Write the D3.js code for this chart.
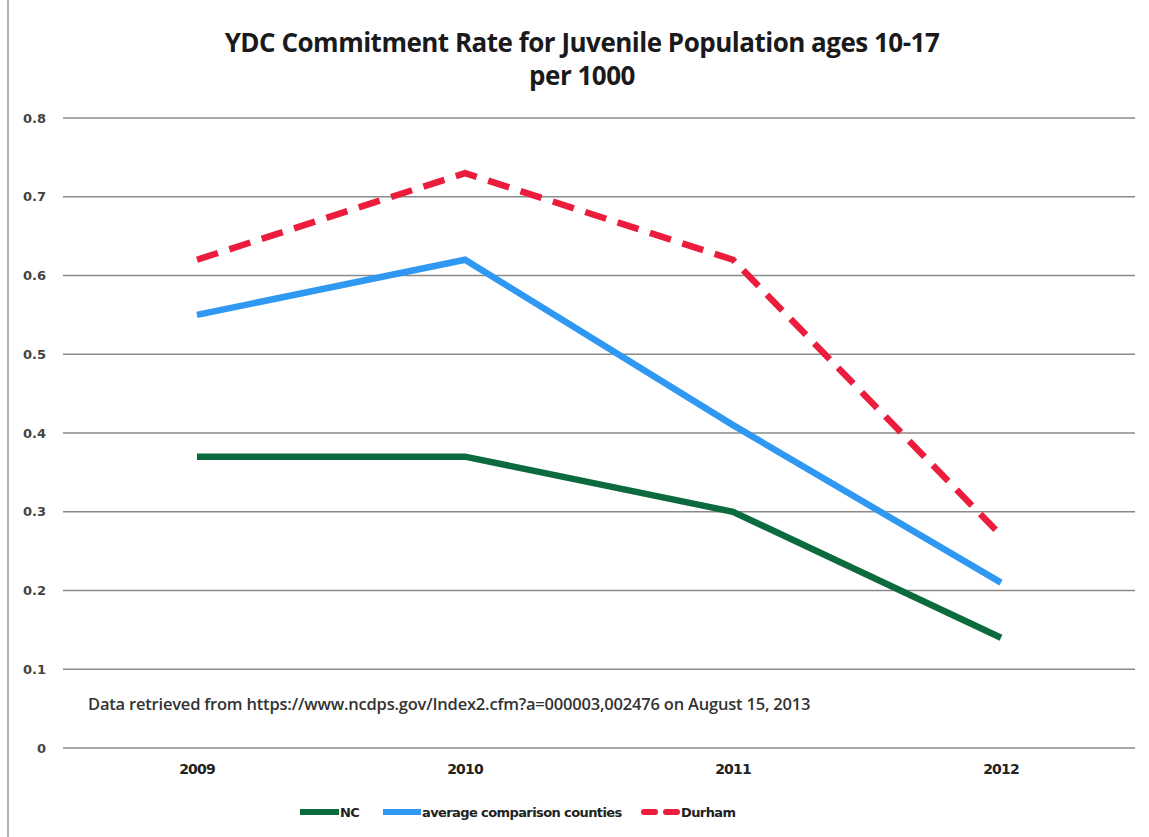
<!DOCTYPE html>
<html><head><meta charset="utf-8">
<script src="https://cdn.jsdelivr.net/npm/d3@7"></script>
<style>body{margin:0;background:#fff}svg{display:block}</style>
</head><body>
<svg id="chart" width="1149" height="837"></svg>
<script>
const years = ["2009","2010","2011","2012"];
const ncValues = [0.37, 0.37, 0.30, 0.14];
const avgValues = [0.55, 0.62, 0.41, 0.21];
const durhamValues = [0.62, 0.73, 0.62, 0.27];
const yTicks = [0, 0.1, 0.2, 0.3, 0.4, 0.5, 0.6, 0.7, 0.8];
const titleLines = ["YDC Commitment Rate for Juvenile Population ages 10-17", "per 1000"];
const note = "Data retrieved from  https://www.ncdps.gov/Index2.cfm?a=000003,002476 on August 15, 2013";
const seriesNames = ["NC", "average comparison counties", "Durham"];

(function(){
const svg = d3.select("#chart");
const pLeft = 63, pRight = 1135, pTop = 118, pBottom = 748;
const x = d3.scaleBand().domain(years).range([pLeft, pRight]);
const y = d3.scaleLinear().domain([0, 0.8]).range([pBottom, pTop]);

// frame
svg.append("line").attr("x1",8).attr("x2",8).attr("y1",0).attr("y2",837).attr("stroke","#999").attr("stroke-width",1.5);

// gridlines
svg.append("g").selectAll("line").data(yTicks).join("line")
  .attr("x1", pLeft).attr("x2", pRight)
  .attr("y1", d => y(d)).attr("y2", d => y(d))
  .attr("stroke", "#8a8a8a").attr("stroke-width", 1.3);

// y axis labels
const yAxis = d3.axisLeft(y).tickValues(yTicks).tickFormat(d => d === 0 ? "0" : d3.format(".1f")(d)).tickSize(0).tickPadding(0);
const ga = svg.append("g").attr("transform", `translate(46,0)`).call(yAxis);
ga.select(".domain").remove();
ga.selectAll("text").attr("font-family","DejaVu Sans").attr("font-weight","bold").attr("font-size","13px").attr("fill","#444").attr("dy","0.32em");

// x axis labels
const xAxis = d3.axisBottom(x).tickSize(0).tickPadding(0);
const gx = svg.append("g").attr("transform", `translate(0,764)`).call(xAxis);
gx.select(".domain").remove();
gx.selectAll("text").attr("font-family","DejaVu Sans").attr("font-weight","bold").attr("font-size","14px").attr("fill","#222").attr("letter-spacing","-0.8px").attr("dy","0.71em");

const line = d3.line().x((d,i) => x(years[i]) + x.bandwidth()/2).y(d => y(d));
const series = [
  {name: seriesNames[0], values: ncValues, color: "#0c6b3e", dash: null},
  {name: seriesNames[1], values: avgValues, color: "#2e98f2", dash: null},
  {name: seriesNames[2], values: durhamValues, color: "#ec1c3c", dash: "22,12"}
];
svg.append("g").selectAll("path").data(series).join("path")
  .attr("d", d => line(d.values))
  .attr("fill","none").attr("stroke", d => d.color).attr("stroke-width", 6.5)
  .attr("stroke-dasharray", d => d.dash);

// title
svg.append("g").selectAll("text").data(titleLines).join("text")
  .attr("x", 582).attr("y", (d,i) => 52 + i*33)
  .attr("text-anchor","middle").attr("font-family","Open Sans").attr("font-weight","bold")
  .attr("font-size","26px").attr("fill","#1a1a1a").attr("letter-spacing","-0.5px").text(d => d);

// note
svg.append("text").attr("x", 88).attr("y", 710).attr("font-family","Open Sans").attr("font-weight","600")
  .attr("font-size","16.5px").attr("fill","#333").attr("letter-spacing","-0.2px").text(note);

// legend
const leg = [
  {x: 300, w: 39, text: seriesNames[0]},
  {x: 383, w: 38, text: seriesNames[1]},
  {x: 641, w: 39, text: seriesNames[2]}
];
leg.forEach((l, i) => {
  const s = series[i];
  svg.append("line").attr("x1", l.x + (s.dash ? 3 : 0)).attr("x2", l.x + l.w - (s.dash ? 3 : 0)).attr("y1", 812).attr("y2", 812)
    .attr("stroke", s.color).attr("stroke-width", 6).attr("stroke-dasharray", s.dash ? "11,11" : null)
    .attr("stroke-linecap", s.dash ? "round" : null);
  svg.append("text").attr("x", l.x + l.w + 1).attr("y", 817).attr("font-family","DejaVu Sans")
    .attr("font-weight","bold").attr("font-size","13px").attr("fill","#222").attr("letter-spacing","-0.6px").text(l.text);
});
})();
</script>
</body></html>
